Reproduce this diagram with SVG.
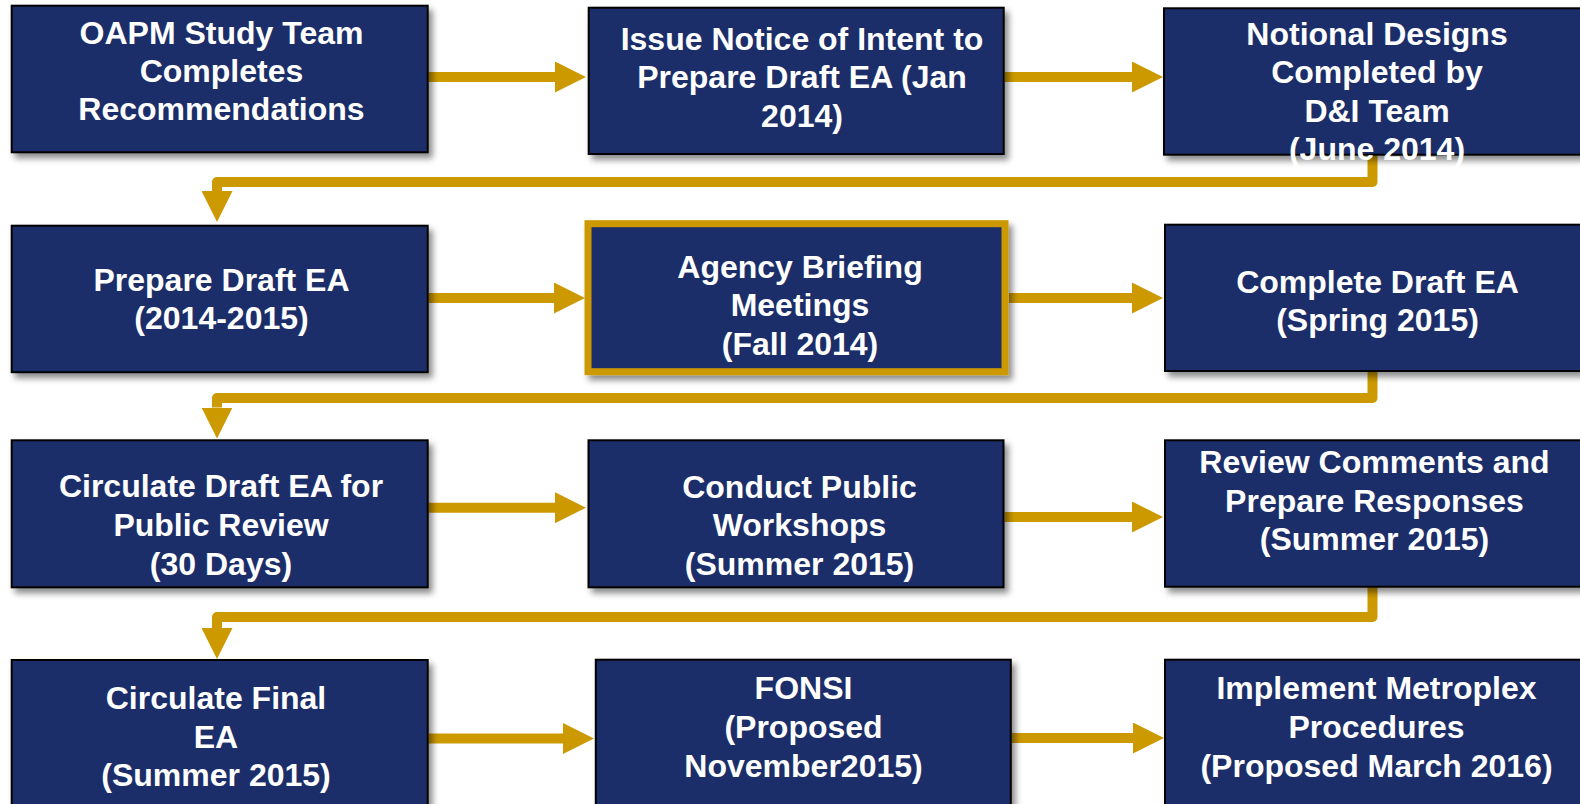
<svg xmlns="http://www.w3.org/2000/svg" width="1580" height="804" viewBox="0 0 1580 804">
<defs>
<style>
.box{fill:#1F2E69;stroke:#000;stroke-width:2}
.hl{fill:#1F2E69;stroke:#CC9900;stroke-width:7}
.t{font-family:"Liberation Sans",Arial,sans-serif;font-weight:bold;font-size:32px;fill:#fff;text-anchor:middle}
.c{fill:none;stroke:#CC9900;stroke-width:10;stroke-linejoin:round}
</style>
<filter id="sh" x="-5%" y="-5%" width="115%" height="120%">
<feDropShadow dx="4" dy="5" stdDeviation="3" flood-color="#000" flood-opacity="0.45"/>
</filter>
<marker id="ah" markerUnits="userSpaceOnUse" viewBox="0 0 31 31" refX="0" refY="15.5" markerWidth="31" markerHeight="31" orient="auto">
<path d="M0,0 L31,15.5 L0,31 Z" fill="#CC9900"/>
</marker>
</defs>
<rect width="1580" height="804" fill="#fff"/>
<g id="connectors">
<path class="c" d="M428.6,77 H555" marker-end="url(#ah)"/>
<path class="c" d="M1004.8,77 H1132" marker-end="url(#ah)"/>
<path class="c" d="M1372.5,155 V182 H217 V191" marker-end="url(#ah)"/>
<path class="c" d="M428.6,298 H554" marker-end="url(#ah)"/>
<path class="c" d="M1008.8,298 H1132" marker-end="url(#ah)"/>
<path class="c" d="M1372.5,371 V398 H217 V407.5" marker-end="url(#ah)"/>
<path class="c" d="M428.6,507.7 H555" marker-end="url(#ah)"/>
<path class="c" d="M1004.6,517 H1132" marker-end="url(#ah)"/>
<path class="c" d="M1372.5,587 V617 H217 V628" marker-end="url(#ah)"/>
<path class="c" d="M428.6,738.5 H563" marker-end="url(#ah)"/>
<path class="c" d="M1012,738 H1133" marker-end="url(#ah)"/>
</g>
<g id="n1"><rect class="box" filter="url(#sh)" x="11.7" y="5.7" width="416" height="146.6"/>
<text class="t" x="221.5"><tspan x="221.5" y="43.5">OAPM Study Team</tspan><tspan x="221.5" y="81.8">Completes</tspan><tspan x="221.5" y="120">Recommendations</tspan></text></g>
<g id="n2"><rect class="box" filter="url(#sh)" x="588.7" y="7.7" width="415" height="146.3"/>
<text class="t"><tspan x="802" y="50">Issue Notice of Intent to</tspan><tspan x="802" y="88.3">Prepare Draft EA (Jan</tspan><tspan x="802" y="126.7">2014)</tspan></text></g>
<g id="n3"><rect class="box" filter="url(#sh)" x="1164" y="8.3" width="424" height="146.4"/>
<text class="t"><tspan x="1377" y="45">Notional Designs</tspan><tspan x="1377" y="83.4">Completed by</tspan><tspan x="1377" y="121.8">D&amp;I Team</tspan><tspan x="1377" y="160.2">(June 2014)</tspan></text></g>
<g id="n4"><rect class="box" filter="url(#sh)" x="11.7" y="225.7" width="416" height="146.5"/>
<text class="t"><tspan x="221.5" y="290.5">Prepare Draft EA</tspan><tspan x="221.5" y="329">(2014-2015)</tspan></text></g>
<g id="n5"><rect class="hl" filter="url(#sh)" x="588" y="223.7" width="417" height="148"/>
<text class="t"><tspan x="800" y="277.5">Agency Briefing</tspan><tspan x="800" y="316">Meetings</tspan><tspan x="800" y="355">(Fall 2014)</tspan></text></g>
<g id="n6"><rect class="box" filter="url(#sh)" x="1165" y="224.7" width="424" height="146.3"/>
<text class="t"><tspan x="1377.5" y="292.5">Complete Draft EA</tspan><tspan x="1377.5" y="331">(Spring 2015)</tspan></text></g>
<g id="n7"><rect class="box" filter="url(#sh)" x="11.7" y="440.3" width="416" height="147"/>
<text class="t"><tspan x="221" y="497.3">Circulate Draft EA for</tspan><tspan x="221" y="536.3">Public Review</tspan><tspan x="221" y="575">(30 Days)</tspan></text></g>
<g id="n8"><rect class="box" filter="url(#sh)" x="588.5" y="440.3" width="415" height="147"/>
<text class="t"><tspan x="799.5" y="497.5">Conduct Public</tspan><tspan x="799.5" y="536">Workshops</tspan><tspan x="799.5" y="575">(Summer 2015)</tspan></text></g>
<g id="n9"><rect class="box" filter="url(#sh)" x="1165" y="440.3" width="424" height="146.4"/>
<text class="t"><tspan x="1374.5" y="473">Review Comments and</tspan><tspan x="1374.5" y="511.5">Prepare Responses</tspan><tspan x="1374.5" y="550">(Summer 2015)</tspan></text></g>
<g id="n10"><rect class="box" filter="url(#sh)" x="11.7" y="660" width="416" height="147"/>
<text class="t"><tspan x="216" y="709">Circulate Final</tspan><tspan x="216" y="747.5">EA</tspan><tspan x="216" y="786">(Summer 2015)</tspan></text></g>
<g id="n11"><rect class="box" filter="url(#sh)" x="595.8" y="659.7" width="415" height="147"/>
<text class="t"><tspan x="803.5" y="699">FONSI</tspan><tspan x="803.5" y="738">(Proposed</tspan><tspan x="803.5" y="776.7">November2015)</tspan></text></g>
<g id="n12"><rect class="box" filter="url(#sh)" x="1165" y="659.7" width="424" height="147"/>
<text class="t"><tspan x="1376.5" y="699">Implement Metroplex</tspan><tspan x="1376.5" y="737.5">Procedures</tspan><tspan x="1376.5" y="776.5">(Proposed March 2016)</tspan></text></g>
</svg>
